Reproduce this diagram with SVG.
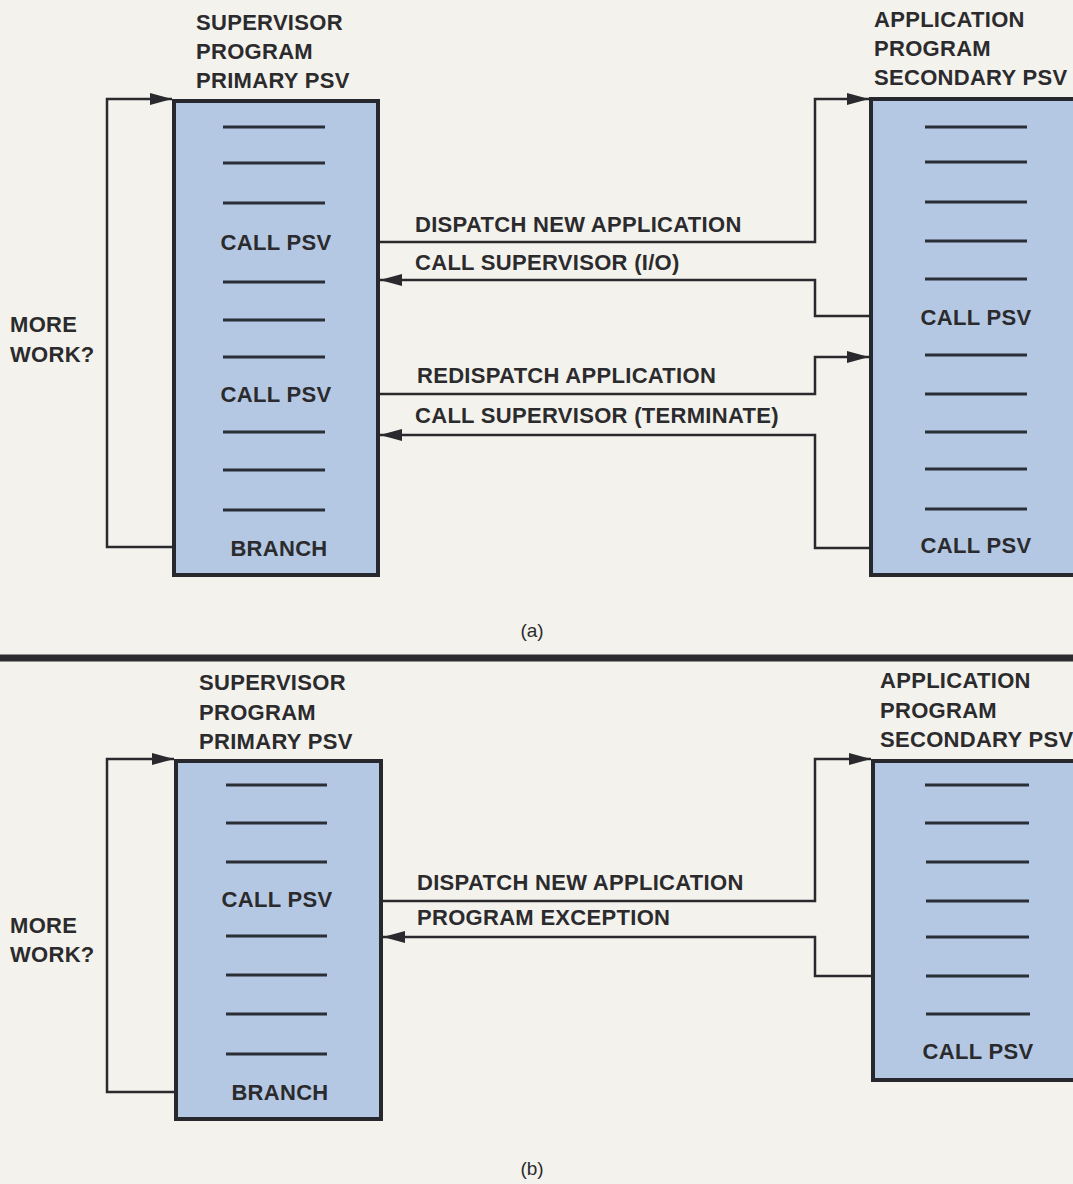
<svg xmlns="http://www.w3.org/2000/svg" width="1073" height="1184" viewBox="0 0 1073 1184">
<defs>
<style>
.bg{fill:#f4f2ec}
.box{fill:#b5c8e3;stroke:#26282d;stroke-width:4}
.dash{stroke:#2a2e36;stroke-width:3}
.conn{fill:none;stroke:#2a2a2e;stroke-width:2.5}
.t{font-family:"Liberation Sans",Arial,sans-serif;font-weight:bold;font-size:22px;letter-spacing:0.3px;fill:#2b2b2e}
.c{text-anchor:middle}
.cap{font-family:"Liberation Sans",Arial,sans-serif;font-size:19px;fill:#2b2b2e;text-anchor:middle}
</style>
<marker id="ah" markerUnits="userSpaceOnUse" markerWidth="22" markerHeight="12" refX="22" refY="6" orient="auto">
<path d="M0,0 L22,6 L0,12 z" fill="#2a2a2e"/>
</marker>
</defs>
<rect class="bg" x="0" y="0" width="1073" height="1184"/>

<!-- Panel (a) -->
<g id="a-supervisor">
<text class="t" x="196" y="30">SUPERVISOR</text>
<text class="t" x="196" y="59">PROGRAM</text>
<text class="t" x="196" y="88">PRIMARY PSV</text>
<rect class="box" x="174" y="101" width="204" height="474"/>
<g class="dash">
<line x1="223" y1="127" x2="325" y2="127"/>
<line x1="223" y1="163" x2="325" y2="163"/>
<line x1="223" y1="203" x2="325" y2="203"/>
<line x1="223" y1="282" x2="325" y2="282"/>
<line x1="223" y1="320" x2="325" y2="320"/>
<line x1="223" y1="357" x2="325" y2="357"/>
<line x1="223" y1="432" x2="325" y2="432"/>
<line x1="223" y1="470" x2="325" y2="470"/>
<line x1="223" y1="510" x2="325" y2="510"/>
</g>
<text class="t c" x="276" y="250">CALL PSV</text>
<text class="t c" x="276" y="402">CALL PSV</text>
<text class="t c" x="279" y="556">BRANCH</text>
</g>

<g id="a-application">
<text class="t" x="874" y="27">APPLICATION</text>
<text class="t" x="874" y="56">PROGRAM</text>
<text class="t" x="874" y="85">SECONDARY PSV</text>
<rect class="box" x="871" y="99" width="220" height="476"/>
<g class="dash">
<line x1="925" y1="127" x2="1027" y2="127"/>
<line x1="925" y1="162" x2="1027" y2="162"/>
<line x1="925" y1="202" x2="1027" y2="202"/>
<line x1="925" y1="241" x2="1027" y2="241"/>
<line x1="925" y1="279" x2="1027" y2="279"/>
<line x1="925" y1="355" x2="1027" y2="355"/>
<line x1="925" y1="394" x2="1027" y2="394"/>
<line x1="925" y1="432" x2="1027" y2="432"/>
<line x1="925" y1="469" x2="1027" y2="469"/>
<line x1="925" y1="509" x2="1027" y2="509"/>
</g>
<text class="t c" x="976" y="325">CALL PSV</text>
<text class="t c" x="976" y="553">CALL PSV</text>
</g>

<g id="a-morework">
<text class="t" x="10" y="332">MORE</text>
<text class="t" x="10" y="362">WORK?</text>
</g>

<g id="a-connectors">
<path class="conn" d="M172,547 H107 V99 H172" marker-end="url(#ah)"/>
<path class="conn" d="M380,242 H815 V99 H869" marker-end="url(#ah)"/>
<path class="conn" d="M869,316 H815 V280 H380" marker-end="url(#ah)"/>
<path class="conn" d="M380,394 H815 V357 H869" marker-end="url(#ah)"/>
<path class="conn" d="M869,548 H815 V435 H380" marker-end="url(#ah)"/>
<text class="t" x="415" y="232">DISPATCH NEW APPLICATION</text>
<text class="t" x="415" y="270">CALL SUPERVISOR (I/O)</text>
<text class="t" x="417" y="383">REDISPATCH APPLICATION</text>
<text class="t" x="415" y="423">CALL SUPERVISOR (TERMINATE)</text>
</g>

<text class="cap" x="532" y="637">(a)</text>
<line x1="0" y1="658" x2="1073" y2="658" stroke="#2c2c30" stroke-width="7"/>

<!-- Panel (b) -->
<g id="b-supervisor">
<text class="t" x="199" y="690">SUPERVISOR</text>
<text class="t" x="199" y="720">PROGRAM</text>
<text class="t" x="199" y="749">PRIMARY PSV</text>
<rect class="box" x="176" y="761" width="205" height="358"/>
<g class="dash">
<line x1="226" y1="785" x2="327" y2="785"/>
<line x1="226" y1="823" x2="327" y2="823"/>
<line x1="226" y1="862" x2="327" y2="862"/>
<line x1="226" y1="936" x2="327" y2="936"/>
<line x1="226" y1="975" x2="327" y2="975"/>
<line x1="226" y1="1014" x2="327" y2="1014"/>
<line x1="226" y1="1054" x2="327" y2="1054"/>
</g>
<text class="t c" x="277" y="907">CALL PSV</text>
<text class="t c" x="280" y="1100">BRANCH</text>
</g>

<g id="b-application">
<text class="t" x="880" y="688">APPLICATION</text>
<text class="t" x="880" y="718">PROGRAM</text>
<text class="t" x="880" y="747">SECONDARY PSV</text>
<rect class="box" x="873" y="761" width="220" height="319"/>
<g class="dash">
<line x1="925" y1="785" x2="1029" y2="785"/>
<line x1="925" y1="823" x2="1029" y2="823"/>
<line x1="926" y1="862" x2="1029" y2="862"/>
<line x1="926" y1="901" x2="1029" y2="901"/>
<line x1="926" y1="937" x2="1029" y2="937"/>
<line x1="926" y1="976" x2="1029" y2="976"/>
<line x1="926" y1="1014" x2="1030" y2="1014"/>
</g>
<text class="t c" x="978" y="1059">CALL PSV</text>
</g>

<g id="b-morework">
<text class="t" x="10" y="933">MORE</text>
<text class="t" x="10" y="962">WORK?</text>
</g>

<g id="b-connectors">
<path class="conn" d="M174,1092 H107 V759 H174" marker-end="url(#ah)"/>
<path class="conn" d="M383,901 H815 V759 H871" marker-end="url(#ah)"/>
<path class="conn" d="M871,976 H815 V937 H383" marker-end="url(#ah)"/>
<text class="t" x="417" y="890">DISPATCH NEW APPLICATION</text>
<text class="t" x="417" y="925">PROGRAM EXCEPTION</text>
</g>

<text class="cap" x="532" y="1175">(b)</text>
</svg>
